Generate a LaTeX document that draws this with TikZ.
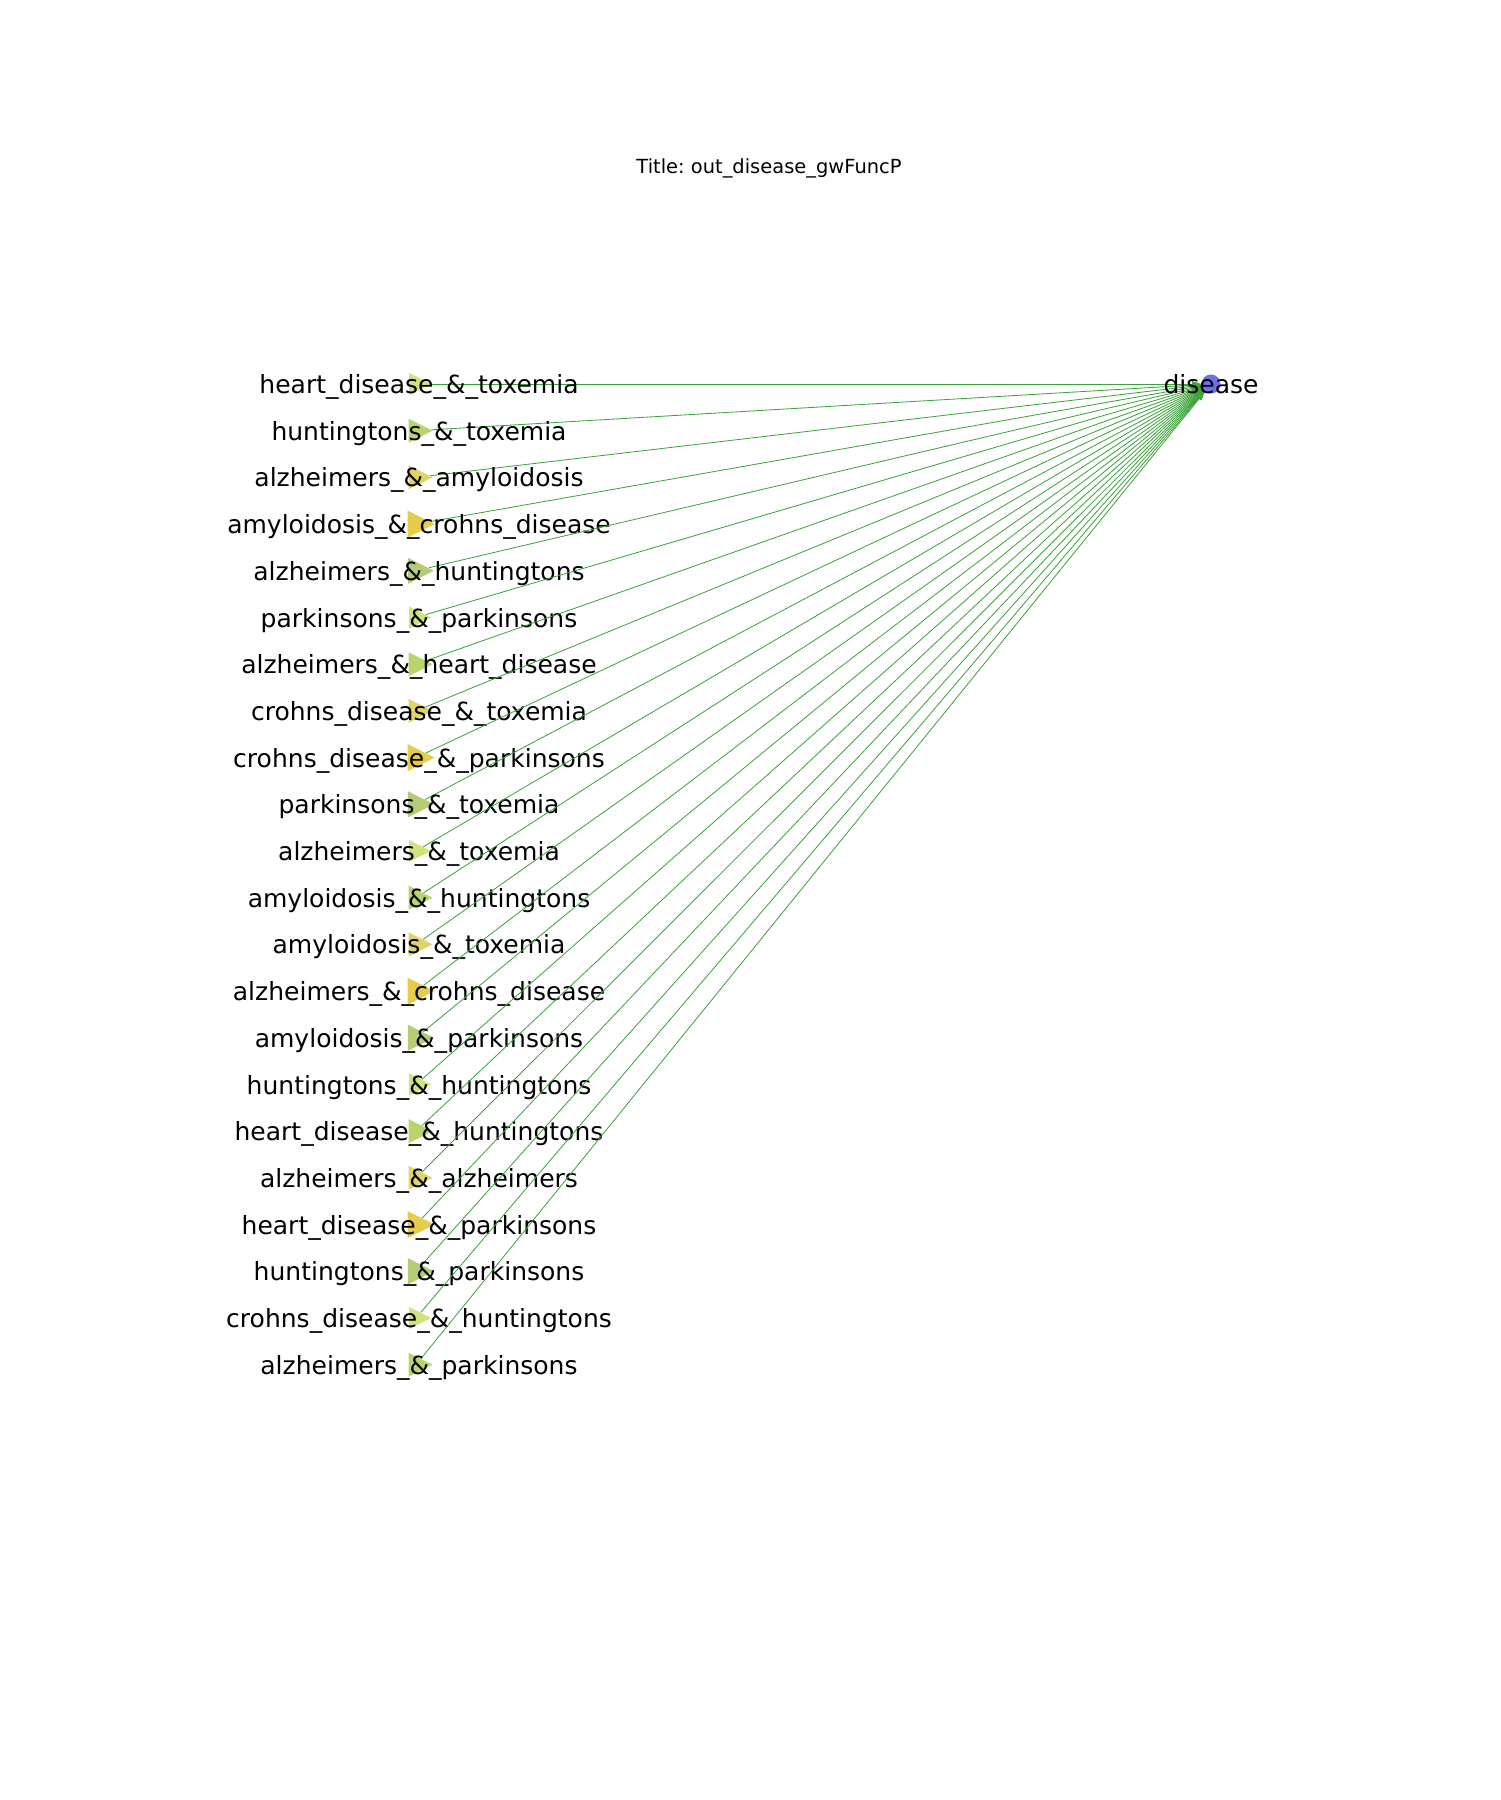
\documentclass[tikz,border=0pt]{standalone}
\usepackage{fontspec}
\setmainfont{DejaVu Sans}
\usetikzlibrary{arrows.meta, shapes.geometric}
\definecolor{lite}{HTML}{CDE47A}
\definecolor{leaf}{HTML}{B8D46B}
\definecolor{straw}{HTML}{E0D468}
\definecolor{gold}{HTML}{E6CC48}
\definecolor{sage}{HTML}{B5CC74}
\definecolor{linkgreen}{HTML}{3DA33D}
\definecolor{hubblue}{HTML}{6E6EE6}
\frenchspacing

\begin{document}
\begin{tikzpicture}[
  x=0.01in, y=-0.01in,
  tri/.style={isosceles triangle, isosceles triangle stretches, inner sep=0pt,
    minimum width=#1*0.01in, minimum height=#1*0.01in},
  hub/.style={circle, fill=hubblue, inner sep=0pt, minimum size=0.19in},
  link/.style={-{Triangle[length=0.09in, width=0.055in]}, draw=linkgreen, line width=0.6pt},
  lbl/.style={font=\fontsize{18bp}{20bp}\selectfont, inner sep=0pt, text depth=0pt},
]
\useasboundingbox (0,0) rectangle (1500,1800);

% Target node
\node[hub] (disease) at (1211,384) {};

% Source nodes
\foreach \name/\col/\sz [count=\i from 0] in {
  heart\_disease\_\&\_toxemia/lite/22,
  huntingtons\_\&\_toxemia/leaf/24,
  alzheimers\_\&\_amyloidosis/straw/24,
  amyloidosis\_\&\_crohns\_disease/gold/27,
  alzheimers\_\&\_huntingtons/sage/26,
  parkinsons\_\&\_parkinsons/lite/22,
  alzheimers\_\&\_heart\_disease/leaf/24,
  crohns\_disease\_\&\_toxemia/straw/24,
  crohns\_disease\_\&\_parkinsons/gold/27,
  parkinsons\_\&\_toxemia/sage/26,
  alzheimers\_\&\_toxemia/lite/22,
  amyloidosis\_\&\_huntingtons/leaf/24,
  amyloidosis\_\&\_toxemia/straw/24,
  alzheimers\_\&\_crohns\_disease/gold/27,
  amyloidosis\_\&\_parkinsons/sage/26,
  huntingtons\_\&\_huntingtons/lite/22,
  heart\_disease\_\&\_huntingtons/leaf/24,
  alzheimers\_\&\_alzheimers/straw/24,
  heart\_disease\_\&\_parkinsons/gold/27,
  huntingtons\_\&\_parkinsons/sage/26,
  crohns\_disease\_\&\_huntingtons/lite/22,
  alzheimers\_\&\_parkinsons/leaf/24} {
  \node[tri=\sz, fill=\col] (n\i) at (416,384+46.7*\i) {};
  \draw[link] (n\i) -- (disease);
  \node[lbl] (t\i) at (419,384+46.7*\i) {\name};
}

% Labels
\node[lbl] (diseasetxt) at (disease.center) {disease};
\node[font=\fontsize{14bp}{16bp}\selectfont, text depth=0pt] (title) at (769,166) {Title: out\_disease\_gwFuncP};

\end{tikzpicture}
\end{document}
